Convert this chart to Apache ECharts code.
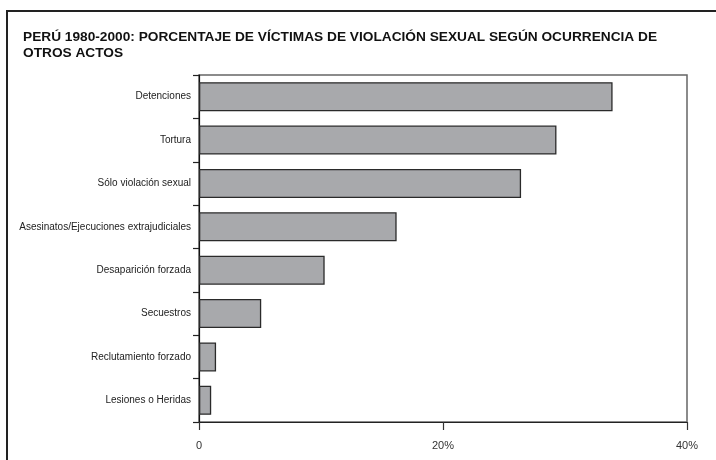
<!DOCTYPE html>
<html>
<head>
<meta charset="utf-8">
<script src="https://cdn.jsdelivr.net/npm/echarts@6/dist/echarts.min.js"></script>
<style>
html,body{margin:0;padding:0;background:#fff;}
#chart{width:716px;height:460px;}
</style>
</head>
<body>
<div id="chart"></div>
<script>
var categories = ['Detenciones','Tortura','Sólo violación sexual','Asesinatos/Ejecuciones extrajudiciales','Desaparición forzada','Secuestros','Reclutamiento forzado','Lesiones o Heridas'];
var values = [33.9, 29.3, 26.4, 16.2, 10.3, 5.1, 1.4, 1.0];
var xTicks = [0, 20, 40];
var titleText = 'PERÚ 1980-2000: PORCENTAJE DE VÍCTIMAS DE VIOLACIÓN SEXUAL SEGÚN OCURRENCIA DE\nOTROS ACTOS';

var FONT = '"Liberation Sans Narrow", "Liberation Sans", Arial, sans-serif';
var chart = echarts.init(document.getElementById('chart'));
chart.setOption({
  animation: false,
  backgroundColor: '#fff',
  title: {
    text: titleText,
    left: 18,
    top: 24,
    textStyle: {fontFamily: FONT, fontWeight: 'bold', fontSize: 13.7, lineHeight: 16, color: '#111'}
  },
  graphic: [{
    type: 'rect', silent: true,
    shape: {x: 7, y: 11, width: 800, height: 600},
    style: {fill: 'none', stroke: '#222', lineWidth: 2}
  }],
  grid: {left: 199, right: 29, top: 75, bottom: 38, show: true, borderColor: '#666', borderWidth: 1.5, backgroundColor: 'transparent'},
  xAxis: {
    type: 'value', min: 0, max: 40, interval: 20,
    axisLine: {show: true, lineStyle: {color: '#222', width: 1.2}},
    axisTick: {show: true, length: 8, lineStyle: {color: '#333', width: 1.2}},
    splitLine: {show: false},
    axisLabel: {fontFamily: FONT, fontSize: 11, color: '#333', margin: 18,
      formatter: function(v){ return xTicks.indexOf(v) >= 0 ? (v === 0 ? '0' : v + '%') : ''; }}
  },
  yAxis: {
    type: 'category', data: categories, inverse: true,
    axisLine: {show: true, lineStyle: {color: '#111', width: 1.2}},
    axisTick: {show: true, length: 6, lineStyle: {color: '#222', width: 1.2}},
    axisLabel: {fontFamily: FONT, fontSize: 10, color: '#222', margin: 8}
  },
  series: [{
    type: 'bar', data: values, barCategoryGap: '33%',
    itemStyle: {color: '#a8a9ac', borderColor: '#2a2a2a', borderWidth: 1.3}
  }]
});
</script>
</body>
</html>
